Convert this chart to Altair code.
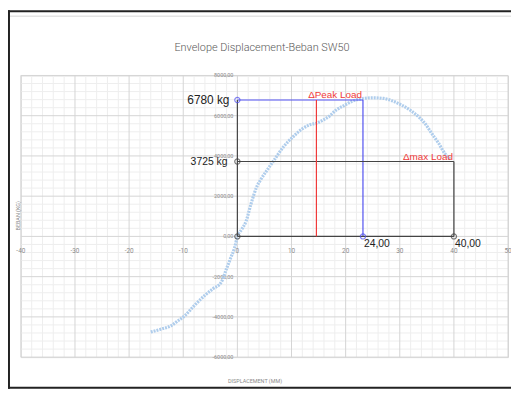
import altair as alt
import pandas as pd

# ---- data ----
chart_title = "Envelope Displacement-Beban SW50"
x_title = "DISPLACEMENT (MM)"
y_title = "BEBAN (KG)"

disp = [-16.0, -14.0, -12.2, -11.0, -9.7, -8.0, -6.1, -4.5, -3.0, -2.0, -1.2, -0.5, 0.0,
        0.8, 1.6, 2.5, 3.6, 4.3, 5.5, 6.8, 8.5, 10.3, 12.0, 13.5, 14.6, 15.8, 17.0, 18.2,
        19.8, 21.3, 23.1, 25.0, 27.0, 28.8, 30.4, 32.0, 33.5, 34.8, 35.9, 37.2, 38.3, 39.3]
load = [-4750, -4600, -4430, -4200, -3940, -3450, -2950, -2600, -2290, -1600, -1050, -550, 0,
        350, 750, 1600, 2480, 2815, 3300, 3800, 4450, 4955, 5350, 5560, 5630, 5780, 5980, 6270,
        6520, 6730, 6850, 6890, 6860, 6720, 6520, 6260, 5940, 5560, 5120, 4620, 4130, 3850]

x_major = list(range(-40, 51, 10))
y_major = list(range(-6000, 8001, 2000))
x_minor = [v for v in range(-40, 51, 2) if v % 10]
y_minor = [v for v in range(-6000, 8001, 400) if v % 2000]
x_tick_labels = [str(v) for v in x_major]
y_tick_labels = [f"{v:.2f}".replace(".", ",") for v in y_major]

peak_disp, peak_load = 23.2, 6780
max_disp, max_load = 40, 3725
red_disp = 14.6

seg_x = [0, peak_disp, 0, 0, max_disp, 0, red_disp]
seg_y = [peak_load, 0, 0, max_load, 0, 0, 0]
seg_x2 = [peak_disp, peak_disp, 0, max_disp, max_disp, max_disp, red_disp]
seg_y2 = [peak_load, peak_load, peak_load, max_load, max_load, 0, peak_load]
seg_c = ["#5050f0", "#5050f0", "#444444", "#444444", "#444444", "#444444", "#f03a3a"]

pt_x = [0, peak_disp, 0, 0, max_disp]
pt_y = [peak_load, 0, max_load, 0, 0]
pt_c = ["#5050f0", "#5050f0", "#444444", "#444444", "#444444"]

RED = "#f03a3a"
NARROW = "Roboto, Liberation Sans"
ARIAL = "Liberation Sans, Arial"

W, H = 493, 285
xs = alt.Scale(domain=[-40, 50], nice=False, zero=False)
ys = alt.Scale(domain=[-6000, 8000], nice=False, zero=False)


def X(f):
    return alt.X(f, scale=xs, axis=None)


def Y(f):
    return alt.Y(f, scale=ys, axis=None)


minor_x = alt.Chart(pd.DataFrame({"v": x_minor})).mark_rule(color="#eeeeee", strokeWidth=1).encode(x=X("v:Q"))
minor_y = alt.Chart(pd.DataFrame({"v": y_minor})).mark_rule(color="#eeeeee", strokeWidth=1).encode(y=Y("v:Q"))
major_x = alt.Chart(pd.DataFrame({"v": x_major})).mark_rule(color="#d4d4d4", strokeWidth=1).encode(x=X("v:Q"))
major_y = alt.Chart(pd.DataFrame({"v": y_major})).mark_rule(color="#d4d4d4", strokeWidth=1).encode(y=Y("v:Q"))

x_lab = alt.Chart(pd.DataFrame({"v": x_major, "z": [0] * len(x_major), "t": x_tick_labels})).mark_text(
    align="center", baseline="middle", dy=15, fontSize=6.5, font=NARROW, color="#8c8c8c").encode(
    x=X("v:Q"), y=Y("z:Q"), text="t:N")
y_lab = alt.Chart(pd.DataFrame({"v": y_major, "z": [0] * len(y_major), "t": y_tick_labels})).mark_text(
    align="right", baseline="middle", dx=-4, fontSize=5.5, font=NARROW, color="#8c8c8c").encode(
    x=X("z:Q"), y=Y("v:Q"), text="t:N")

curve = alt.Chart(pd.DataFrame({"d": disp, "l": load})).mark_line(
    color="#afcdec", strokeWidth=3.2, strokeDash=[2, 1], interpolate="monotone").encode(
    x=X("d:Q"), y=Y("l:Q"), order="d:Q")

segs = alt.Chart(pd.DataFrame({"x": seg_x, "y": seg_y, "x2": seg_x2, "y2": seg_y2, "c": seg_c})).mark_rule(
    strokeWidth=1.2).encode(
    x=X("x:Q"), y=Y("y:Q"), x2="x2:Q", y2="y2:Q", color=alt.Color("c:N", scale=None))

pts = alt.Chart(pd.DataFrame({"x": pt_x, "y": pt_y, "c": pt_c})).mark_point(
    shape="circle", filled=False, size=28, strokeWidth=1.2).encode(
    x=X("x:Q"), y=Y("y:Q"), color=alt.Color("c:N", scale=None))

peak_label = alt.Chart(pd.DataFrame({"x": [0], "y": [peak_load], "t": [f"{peak_load} kg"]})).mark_text(
    align="right", baseline="middle", dx=-8, fontSize=12, font=ARIAL, color="#222222").encode(
    x=X("x:Q"), y=Y("y:Q"), text="t:N")
max_label = alt.Chart(pd.DataFrame({"x": [0], "y": [max_load], "t": [f"{max_load} kg"]})).mark_text(
    align="right", baseline="middle", dx=-10, dy=1, fontSize=10.5, font=ARIAL, color="#222222").encode(
    x=X("x:Q"), y=Y("y:Q"), text="t:N")

disp_labels = alt.Chart(pd.DataFrame({"x": [peak_disp, max_disp], "y": [0, 0],
                                      "t": ["24,00", "40,00"]})).mark_text(
    align="left", baseline="middle", dx=1, dy=8, fontSize=10.5, font=ARIAL, color="#222222").encode(
    x=X("x:Q"), y=Y("y:Q"), text="t:N")

red_labels = alt.Chart(pd.DataFrame({"x": [peak_disp, max_disp], "y": [peak_load, max_load],
                                     "t": ["\u0394Peak Load", "\u0394max Load"]})).mark_text(
    align="right", baseline="alphabetic", dx=-1, dy=-2, fontSize=10, font=ARIAL, color=RED).encode(
    x=X("x:Q"), y=Y("y:Q"), text="t:N")

title_txt = alt.Chart(pd.DataFrame({"t": [chart_title]})).mark_text(
    align="center", baseline="middle", fontSize=11, font=NARROW, fontWeight=300, color="#595959").encode(
    x=alt.value(244), y=alt.value(-28), text="t:N")
xt_txt = alt.Chart(pd.DataFrame({"t": [x_title]})).mark_text(
    align="center", baseline="middle", fontSize=5.5, font=NARROW, color="#8a8a8a").encode(
    x=alt.value(237), y=alt.value(309), text="t:N")
yt_txt = alt.Chart(pd.DataFrame({"t": [y_title]})).mark_text(
    align="center", baseline="middle", fontSize=5.5, font=NARROW, color="#8a8a8a", angle=270).encode(
    x=alt.value(-3), y=alt.value(142), text="t:N")

one = pd.DataFrame({"k": [0]})
frame_top = alt.Chart(one).mark_rule(color="#222222", strokeWidth=2).encode(
    x=alt.value(-13), x2=alt.value(510), y=alt.value(-65))
frame_left = alt.Chart(one).mark_rule(color="#222222", strokeWidth=2).encode(
    x=alt.value(-12), y=alt.value(-66), y2=alt.value(317))
frame_bottom = alt.Chart(one).mark_rule(color="#222222", strokeWidth=2).encode(
    x=alt.value(-13), x2=alt.value(510), y=alt.value(316))
inner_top = alt.Chart(one).mark_rule(color="#e4e4e4", strokeWidth=1.5).encode(
    x=alt.value(-11), x2=alt.value(510), y=alt.value(-60))

chart = alt.layer(
    minor_x, minor_y, major_x, major_y, x_lab, y_lab, curve, segs, pts,
    peak_label, max_label, disp_labels, red_labels, title_txt, xt_txt, yt_txt,
    inner_top, frame_top, frame_left, frame_bottom
).properties(
    width=W, height=H,
    autosize=alt.AutoSizeParams(type="none"),
    padding={"left": 13, "top": 66, "right": 3, "bottom": 32},
    background="white",
).configure_view(stroke="#d9d9d9")

chart.save("out.html", embed_options={"renderer": "svg", "actions": False})
